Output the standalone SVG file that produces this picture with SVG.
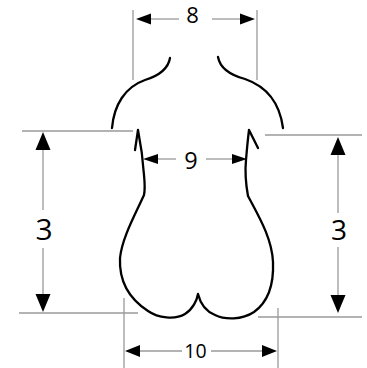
<svg xmlns="http://www.w3.org/2000/svg" width="367" height="368" viewBox="0 0 367 368">
<style>
.dim{stroke:#9a9a9a;stroke-width:1.3;fill:none}
.body{stroke:#000;stroke-width:2.3;fill:none;stroke-linecap:round;stroke-linejoin:round}
.ah{fill:#000}
text{font-family:"Open Sans","DejaVu Sans",sans-serif;fill:#000;text-anchor:middle}
</style>
<rect width="367" height="368" fill="#fff"/>
<g id="figure">
<path class="body" d="M170,58 C168,70 158,76 145,80 C125,87 114,105 112,128"/>
<path class="body" d="M218,57 C220,68 230,75 245,79 C268,87 280,105 283,128"/>
<path class="body" d="M135,150 L138,130 C141,145 143,160 144,175 C145,185 145,190 144,195 C135,215 122,238 120,258 C119,280 128,298 148,311 C158,318 175,320 185,314 C193,309 197,300 198,294 C200,302 205,311 215,315 C225,320 242,320 254,312 C268,302 274,286 273,262 C272,238 258,215 248,196 C246,185 245,170 246,160 C247,148 248,138 249,130 L258,148"/>
</g>
<g id="connectors">
<line class="dim" x1="133" y1="10" x2="133" y2="80"/>
<line class="dim" x1="257" y1="10" x2="257" y2="80"/>
<line class="dim" x1="148" y1="19" x2="179" y2="19"/>
<line class="dim" x1="212" y1="19" x2="243" y2="19"/>
<line class="dim" x1="22" y1="131" x2="133" y2="131"/>
<line class="dim" x1="265" y1="135" x2="362" y2="135"/>
<line class="dim" x1="155" y1="159" x2="176" y2="159"/>
<line class="dim" x1="206" y1="159" x2="233" y2="159"/>
<line class="dim" x1="43" y1="148" x2="43" y2="210"/>
<line class="dim" x1="43" y1="248" x2="43" y2="297"/>
<line class="dim" x1="338" y1="153" x2="338" y2="213"/>
<line class="dim" x1="338" y1="247" x2="338" y2="298"/>
<line class="dim" x1="19" y1="313" x2="138" y2="313"/>
<line class="dim" x1="258" y1="317" x2="362" y2="317"/>
<line class="dim" x1="124" y1="298" x2="124" y2="368"/>
<line class="dim" x1="278" y1="308" x2="278" y2="368"/>
<line class="dim" x1="138" y1="351" x2="182" y2="351"/>
<line class="dim" x1="211" y1="351" x2="264" y2="351"/>
<polygon class="ah" points="136,19 151,13.5 151,24.5"/>
<polygon class="ah" points="255,19 240,13.5 240,24.5"/>
<polygon class="ah" points="143,159 158,154 158,164"/>
<polygon class="ah" points="247,159 232,154 232,164"/>
<polygon class="ah" points="43,132 35.5,150 50.5,150"/>
<polygon class="ah" points="43,312 35.5,294 50.5,294"/>
<polygon class="ah" points="338,137 330.5,155 345.5,155"/>
<polygon class="ah" points="338,313 330.5,295 345.5,295"/>
<polygon class="ah" points="125,351 140,345 140,357"/>
<polygon class="ah" points="277,351 262,345 262,357"/>
</g>
<g id="labels">
<text x="192.5" y="23" font-size="22">8</text>
<text x="191" y="169" font-size="23.5">9</text>
<text x="44" y="240" font-size="30">3</text>
<text x="339" y="240" font-size="28">3</text>
<text x="195.5" y="358" font-size="19.5">10</text>
</g>
</svg>
